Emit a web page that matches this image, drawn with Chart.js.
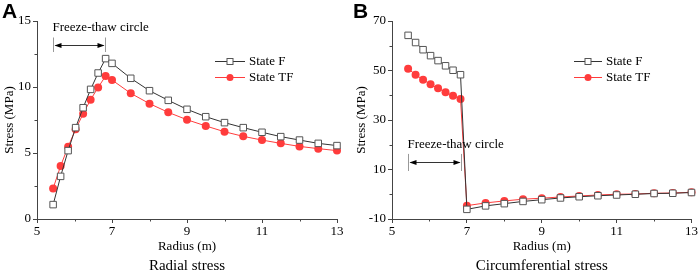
<!DOCTYPE html>
<html>
<head>
<meta charset="utf-8">
<script src="https://cdn.jsdelivr.net/npm/chart.js@4.4.1/dist/chart.umd.min.js"></script>
<style>
body { margin: 0; background: #fff; }
#wrap { position: relative; width: 699px; height: 274px; }
.panel { position: absolute; top: 0; height: 274px; }
</style>
</head>
<body>
<div id="wrap">
  <div class="panel" style="left:0;width:350px"><canvas id="chartA" width="350" height="274"></canvas></div>
  <div class="panel" style="left:350px;width:349px"><canvas id="chartB" width="349" height="274"></canvas></div>
</div>
<script>
// radius of the sample points (m)
const radius = [5.43, 5.63, 5.83, 6.03, 6.23, 6.43, 6.63, 6.83, 7, 7.5, 8, 8.5, 9, 9.5, 10, 10.5, 11, 11.5, 12, 12.5, 13];

// A - radial stress (MPa)
const radialF  = [1.09, 3.23, 5.18, 6.92, 8.43, 9.82, 11.06, 12.15, 11.79, 10.66, 9.72, 8.99, 8.31, 7.75, 7.30, 6.92, 6.57, 6.24, 5.98, 5.73, 5.56];
const radialTF = [2.32, 4.02, 5.48, 6.79, 7.98, 9.04, 9.97, 10.83, 10.53, 9.52, 8.74, 8.08, 7.52, 7.05, 6.61, 6.26, 5.98, 5.73, 5.50, 5.33, 5.18];

// B - circumferential stress (MPa)
const circF  = [64.2, 61.3, 58.4, 56.0, 54.0, 51.9, 50.1, 48.3, -6.1, -4.7, -3.8, -2.9, -2.2, -1.5, -1.0, -0.6, -0.3, 0.0, 0.3, 0.4, 0.7];
const circTF = [50.7, 48.3, 46.3, 44.4, 42.8, 41.2, 39.8, 38.5, -4.6, -3.5, -2.7, -2.0, -1.6, -1.1, -0.7, -0.3, 0.0, 0.1, 0.4, 0.5, 0.8];

const seriesNames = ['State F', 'State TF'];
const xTicks = [5, 7, 9, 11, 13];
const xMinor = [6, 8, 10, 12];
const yTicksA = [0, 5, 10, 15];
const yMinorA = [2.5, 7.5, 12.5];
const yTicksB = [-10, 10, 30, 50, 70];
const yMinorB = [0, 20, 40, 60];

const SERIF = "'Liberation Serif', 'Times New Roman', serif";
const AXIS = '#444';
const COL_F = '#333333';
const COL_TF = '#ff3c3c';

Chart.defaults.font.family = SERIF;
Chart.defaults.font.size = 13;
Chart.defaults.color = '#000';

function pts(ys) {
    return radius.map((r, i) => ({ x: r, y: ys[i] }));
}

// minor ticks, legend, freeze-thaw span, panel letter and caption
const decor = {
    id: 'decor',
    afterDraw(chart, args, o) {
        const { ctx, chartArea: ca, scales: { x, y } } = chart;
        ctx.save();
        ctx.strokeStyle = AXIS;
        ctx.lineWidth = 1;
        o.minorX.forEach(v => {
            const px = Math.round(x.getPixelForValue(v)) + 0.5;
            ctx.beginPath(); ctx.moveTo(px, ca.bottom); ctx.lineTo(px, ca.bottom + 2.5); ctx.stroke();
        });
        o.minorY.forEach(v => {
            const py = Math.round(y.getPixelForValue(v)) + 0.5;
            ctx.beginPath(); ctx.moveTo(ca.left, py); ctx.lineTo(ca.left - 2.5, py); ctx.stroke();
        });

        // freeze-thaw circle span
        const s = o.span;
        const x1 = Math.round(x.getPixelForValue(s.from)) + 0.5;
        const x2 = Math.round(x.getPixelForValue(s.to)) + 0.5;
        const bt = y.getPixelForValue(s.barTop), bb = y.getPixelForValue(s.barBottom);
        const ay = Math.round(y.getPixelForValue(s.arrowY)) + 0.5;
        ctx.fillStyle = '#000';
        ctx.font = '13px ' + SERIF;
        ctx.textAlign = 'left';
        ctx.textBaseline = 'middle';
        ctx.fillText('Freeze-thaw circle', x1 - 1, y.getPixelForValue(s.textY));
        ctx.strokeStyle = '#999';
        [x1, x2].forEach(px => { ctx.beginPath(); ctx.moveTo(px, bt); ctx.lineTo(px, bb); ctx.stroke(); });
        ctx.strokeStyle = '#333';
        ctx.beginPath(); ctx.moveTo(x1 + 2, ay); ctx.lineTo(x2 - 2, ay); ctx.stroke();
        ctx.fillStyle = '#000';
        ctx.beginPath(); ctx.moveTo(x1 + 1, ay); ctx.lineTo(x1 + 8, ay - 2.5); ctx.lineTo(x1 + 8, ay + 2.5); ctx.closePath(); ctx.fill();
        ctx.beginPath(); ctx.moveTo(x2 - 1, ay); ctx.lineTo(x2 - 8, ay - 2.5); ctx.lineTo(x2 - 8, ay + 2.5); ctx.closePath(); ctx.fill();

        // legend
        const L = o.legend;
        chart.data.datasets.forEach((ds, i) => {
            const ly = Math.round(L.y + i * L.dy) + 0.5;
            ctx.strokeStyle = ds.borderColor;
            ctx.lineWidth = 1;
            ctx.beginPath(); ctx.moveTo(L.x, ly); ctx.lineTo(L.x + L.len, ly); ctx.stroke();
            const cx = L.x + L.len / 2;
            if (ds.pointStyle === 'rect') {
                ctx.fillStyle = '#fff';
                ctx.strokeStyle = '#555';
                ctx.fillRect(cx - 3, ly - 3, 6, 6);
                ctx.strokeRect(cx - 3, ly - 3, 6, 6);
            } else {
                ctx.fillStyle = ds.pointBackgroundColor;
                ctx.beginPath(); ctx.arc(cx, ly, 3.5, 0, Math.PI * 2); ctx.fill();
            }
            ctx.fillStyle = '#000';
            ctx.font = '13px ' + SERIF;
            ctx.fillText(ds.label, L.x + L.len + 4, ly);
        });

        // panel letter and caption
        ctx.font = "bold 21px 'Liberation Sans', Arial, sans-serif";
        ctx.textBaseline = 'alphabetic';
        ctx.fillText(o.letter, o.letterX, 18);
        ctx.font = '15px ' + SERIF;
        ctx.textAlign = 'center';
        ctx.textBaseline = 'middle';
        ctx.fillText(o.caption, (ca.left + ca.right) / 2, 266);
        ctx.restore();
    }
};

function makeChart(id, cfg) {
    const ctx = document.getElementById(id).getContext('2d');
    return new Chart(ctx, {
        type: 'line',
        data: {
            datasets: [
                {
                    label: seriesNames[0],
                    data: pts(cfg.f),
                    borderColor: COL_F,
                    borderWidth: 1,
                    pointStyle: 'rect',
                    pointRadius: 4.6,
                    pointBackgroundColor: '#fff',
                    pointBorderColor: '#555',
                    pointBorderWidth: 1,
                    tension: 0,
                    clip: false
                },
                {
                    label: seriesNames[1],
                    data: pts(cfg.tf),
                    borderColor: COL_TF,
                    borderWidth: 1,
                    pointStyle: 'circle',
                    pointRadius: 4,
                    pointBackgroundColor: COL_TF,
                    pointBorderColor: COL_TF,
                    pointBorderWidth: 0,
                    tension: 0,
                    clip: false
                }
            ]
        },
        options: {
            responsive: false,
            animation: false,
            devicePixelRatio: 1,
            layout: { padding: { top: 21, right: cfg.padRight, left: 0, bottom: 0 } },
            scales: {
                x: {
                    type: 'linear',
                    min: 5,
                    max: 13,
                    afterBuildTicks: s => { s.ticks = xTicks.map(v => ({ value: v })); },
                    afterFit: s => { s.height = 55; },
                    ticks: { padding: 1, maxRotation: 0, color: '#000' },
                    grid: { drawOnChartArea: false, drawTicks: true, tickLength: 4, color: AXIS },
                    border: { color: AXIS, width: 1 },
                    title: { display: true, text: 'Radius (m)', font: { size: 13 }, padding: { top: 0, bottom: 20 } }
                },
                y: {
                    type: 'linear',
                    min: cfg.yMin,
                    max: cfg.yMax,
                    afterBuildTicks: s => { s.ticks = cfg.yTicks.map(v => ({ value: v })); },
                    afterFit: s => { s.width = cfg.yWidth; },
                    ticks: { padding: 2, color: '#000' },
                    grid: { drawOnChartArea: false, drawTicks: true, tickLength: 4, color: AXIS },
                    border: { color: AXIS, width: 1 },
                    title: { display: true, text: 'Stress (MPa)', font: { size: 13 }, padding: { top: cfg.titlePad, bottom: 0 } }
                }
            },
            plugins: {
                legend: { display: false },
                tooltip: { enabled: false },
                decor: {
                    minorX: xMinor,
                    minorY: cfg.yMinor,
                    span: cfg.span,
                    legend: cfg.legend,
                    letter: cfg.letter,
                    letterX: cfg.letterX,
                    caption: cfg.caption
                }
            }
        },
        plugins: [decor]
    });
}

makeChart('chartA', {
    f: radialF, tf: radialTF,
    yMin: 0, yMax: 15, yTicks: yTicksA, yMinor: yMinorA,
    yWidth: 37, padRight: 13, titlePad: 2,
    span: { from: 5.42, to: 6.8, textY: 14.5, barTop: 13.75, barBottom: 12.65, arrowY: 13.2 },
    legend: { x: 215, y: 60.5, dy: 16, len: 30 },
    letter: 'A', letterX: 2,
    caption: 'Radial stress'
});

makeChart('chartB', {
    f: circF, tf: circTF,
    yMin: -10, yMax: 70, yTicks: yTicksB, yMinor: yMinorB,
    yWidth: 42, padRight: 7, titlePad: 4,
    span: { from: 5.44, to: 6.84, textY: 20, barTop: 16.3, barBottom: 9.4, arrowY: 13 },
    legend: { x: 224, y: 60.5, dy: 16, len: 28 },
    letter: 'B', letterX: 3,
    caption: 'Circumferential stress'
});
</script>
</body>
</html>
